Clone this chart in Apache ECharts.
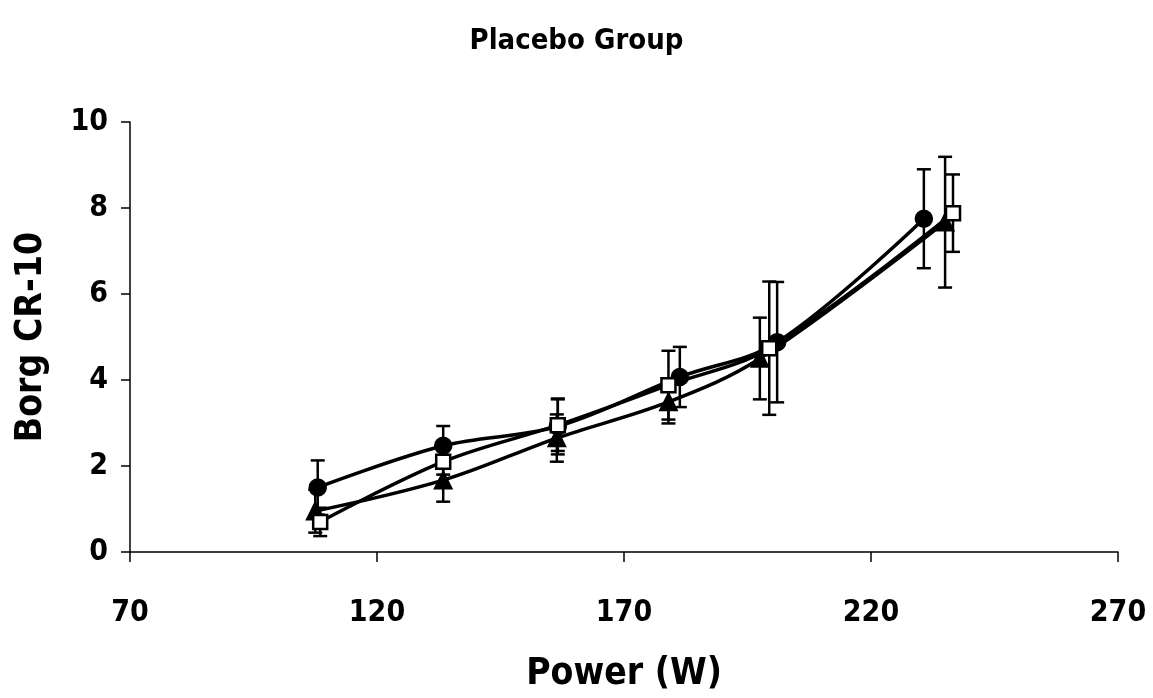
<html>
<head>
	<meta http-equiv="Content-Type" content="text/html; charset=UTF-8">
	<title>Placebo Group</title>
	<style>
		html, body { margin: 0; padding: 0; width: 100%; height: 100%; background: #fff; }
	</style>
</head>
<body>
	<div id="chartBorg" style="width:1153px; height:698px;"></div>

	<script type="text/javascript" src="https://cdn.jsdelivr.net/npm/echarts@6/dist/echarts.min.js"></script>
	<script type="text/javascript">

	// power (W) for each stage, per series
	var powerCircle   = [108, 133.4, 156.6, 181.3, 201, 230.7];
	var powerSquare   = [108.5, 133.4, 156.6, 179, 199.4, 236.6];
	var powerTriangle = [107.5, 133.4, 156.4, 179, 197.5, 235];

	// Borg CR-10 means
	var borgCircle   = [1.5, 2.47, 2.92, 4.07, 4.88, 7.75];
	var borgSquare   = [0.7, 2.1, 2.95, 3.88, 4.74, 7.88];
	var borgTriangle = [0.95, 1.67, 2.65, 3.49, 4.5, 7.67];

	// standard deviations (error bars)
	var sdCircle   = [0.63, 0.46, 0.65, 0.7, 1.4, 1.15];
	var sdSquare   = [0.33, 0.3, 0.6, 0.8, 1.55, 0.9];
	var sdTriangle = [0.5, 0.5, 0.55, 0.5, 0.95, 1.52];

	var fontName = '"Liberation Sans Narrow", "DejaVu Sans Condensed", Arial, sans-serif';

	function pairs(xs, ys){
		var out = [];
		for(var i = 0; i < xs.length; i++){
			out.push([xs[i], ys[i]]);
		}
		return out;
	}

	function errData(xs, ys, sd){
		var out = [];
		for(var i = 0; i < xs.length; i++){
			out.push([xs[i], ys[i] - sd[i], ys[i] + sd[i]]);
		}
		return out;
	}

	function renderErr(params, api){
		var x = api.value(0);
		var lo = api.coord([x, api.value(1)]);
		var hi = api.coord([x, api.value(2)]);
		var half = 7;
		var st = { stroke: '#000', lineWidth: 2.5 };
		return {
			type: 'group',
			children: [
				{ type: 'line', shape: { x1: hi[0], y1: hi[1], x2: lo[0], y2: lo[1] }, style: st },
				{ type: 'line', shape: { x1: hi[0] - half, y1: hi[1], x2: hi[0] + half, y2: hi[1] }, style: st },
				{ type: 'line', shape: { x1: lo[0] - half, y1: lo[1], x2: lo[0] + half, y2: lo[1] }, style: st }
			]
		};
	}

	function errSeries(xs, ys, sd){
		return {
			type: 'custom',
			renderItem: renderErr,
			data: errData(xs, ys, sd),
			encode: { x: 0, y: [1, 2] },
			z: 1,
			silent: true
		};
	}

	function lineSeries(name, xs, ys, symbol, size, fill){
		return {
			name: name,
			type: 'line',
			data: pairs(xs, ys),
			smooth: 0.35,
			symbol: symbol,
			symbolSize: size,
			showAllSymbol: true,
			lineStyle: { color: '#000', width: 3.5 },
			itemStyle: { color: fill, borderColor: '#000', borderWidth: 2.5 },
			z: 3
		};
	}

	var myChart = echarts.init(document.getElementById('chartBorg'));

	var option = {
		backgroundColor: '#fff',
		animation: false,
		title: {
			text: 'Placebo Group',
			left: 'center',
			top: 22,
			textStyle: { fontFamily: fontName, fontSize: 29, fontWeight: 'bold', color: '#000' }
		},
		grid: { left: 130, right: 35, top: 122, bottom: 146, outerBoundsMode: 'none', containLabel: false },
		xAxis: {
			type: 'value',
			min: 70,
			max: 270,
			interval: 50,
			name: 'Power (W)',
			nameLocation: 'middle',
			nameGap: 104,
			nameTextStyle: { fontFamily: fontName, fontSize: 37, fontWeight: 'bold', color: '#000' },
			axisLine: { lineStyle: { color: '#000', width: 1.5 } },
			axisTick: { show: true, length: 10, lineStyle: { color: '#000', width: 1.5 } },
			axisLabel: {
				margin: 46,
				fontFamily: fontName, fontSize: 30, fontWeight: 'bold', color: '#000',
				showMinLabel: true, showMaxLabel: true
			},
			splitLine: { show: false }
		},
		yAxis: {
			type: 'value',
			min: 0,
			max: 10,
			interval: 2,
			name: 'Borg CR-10',
			nameLocation: 'middle',
			nameGap: 80,
			nameTextStyle: { fontFamily: fontName, fontSize: 37, fontWeight: 'bold', color: '#000' },
			axisLine: { show: true, lineStyle: { color: '#000', width: 1.5 } },
			axisTick: { show: true, length: 9, lineStyle: { color: '#000', width: 1.5 } },
			axisLabel: {
				margin: 22,
				fontFamily: fontName, fontSize: 30, fontWeight: 'bold', color: '#000'
			},
			splitLine: { show: false }
		},
		series: [
			errSeries(powerCircle, borgCircle, sdCircle),
			errSeries(powerSquare, borgSquare, sdSquare),
			errSeries(powerTriangle, borgTriangle, sdTriangle),
			lineSeries('circle', powerCircle, borgCircle, 'circle', 16, '#000'),
			lineSeries('triangle', powerTriangle, borgTriangle, 'triangle', 16, '#000'),
			lineSeries('square', powerSquare, borgSquare, 'rect', 14, '#fff')
		]
	};

	myChart.setOption(option, true);
	</script>
</body>
</html>
